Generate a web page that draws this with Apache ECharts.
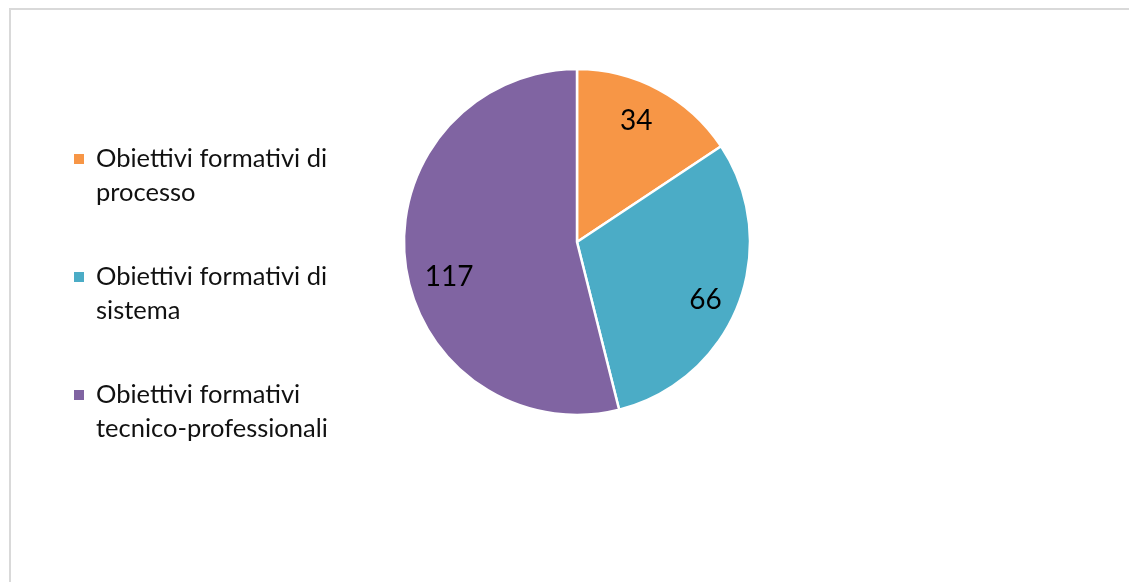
<!DOCTYPE html>
<html>
<head>
<meta charset="utf-8">
<script src="https://cdn.jsdelivr.net/npm/echarts@6/dist/echarts.min.js"></script>
<style>
html,body{margin:0;padding:0;background:#fff;}
#c{width:1129px;height:582px;}
</style>
</head>
<body>
<div id="c"></div>
<script>
var categories = ['Obiettivi formativi di processo', 'Obiettivi formativi di sistema', 'Obiettivi formativi tecnico-professionali'];
var legendLines = [['Obiettivi formativi di', 'processo'], ['Obiettivi formativi di', 'sistema'], ['Obiettivi formativi', 'tecnico-professionali']];
var values = [34, 66, 117];
var colors = ['#F79646', '#4BACC6', '#8064A2'];

var chart = echarts.init(document.getElementById('c'));
var FONT = 'Lato, "Open Sans", sans-serif';

var rich = {
  t: {fontSize: 25.5, lineHeight: 34, color: '#111', fontFamily: FONT},
  g: {width: 12, height: 10},
  p: {width: 22, height: 10}
};
colors.forEach(function (c, i) {
  rich['s' + i] = {width: 10, height: 10, backgroundColor: c};
});

var mainData = categories.map(function (n, i) {
  return {name: n, value: values[i], itemStyle: {color: colors[i]}};
});
var labelData = categories.map(function (n, i) {
  return {name: n, value: values[i]};
});

chart.setOption({
  animation: false,
  graphic: [{
    type: 'rect', silent: true, z: -1,
    shape: {x: 10, y: 9, width: 1300, height: 800},
    style: {fill: '#fff', stroke: '#d9d9d9', lineWidth: 2}
  }],
  legend: {
    orient: 'vertical',
    left: 68,
    top: 146,
    padding: 0,
    itemGap: 58,
    itemWidth: 0,
    itemHeight: 0,
    icon: 'rect',
    selectedMode: false,
    data: categories,
    formatter: function (name) {
      var i = categories.indexOf(name);
      var l = legendLines[i];
      return '{s' + i + '|}{g|}{t|' + l[0] + '}\n{p|}{t|' + l[1] + '}';
    },
    textStyle: {rich: rich}
  },
  series: [{
    type: 'pie',
    center: [577, 242],
    radius: [0, 173],
    startAngle: 90,
    clockwise: true,
    silent: true,
    label: {show: false},
    labelLine: {show: false},
    itemStyle: {borderColor: '#fff', borderWidth: 2.5},
    data: mainData
  }, {
    type: 'pie',
    center: [577, 242],
    radius: [0, 274],
    startAngle: 90,
    clockwise: true,
    silent: true,
    z: 3,
    itemStyle: {color: 'rgba(0,0,0,0)', borderWidth: 0},
    label: {
      show: true,
      position: 'inside',
      formatter: '{c}',
      fontSize: 28,
      color: '#000',
      fontFamily: FONT
    },
    labelLine: {show: false},
    labelLayout: function (p) {
      if (p.dataIndex === 2) return {dx: 11, dy: 18};
      if (p.dataIndex === 1) return {dx: -2, dy: 7};
      return {dx: -7, dy: 2};
    },
    emphasis: {disabled: true},
    data: labelData
  }]
});
</script>
</body>
</html>
